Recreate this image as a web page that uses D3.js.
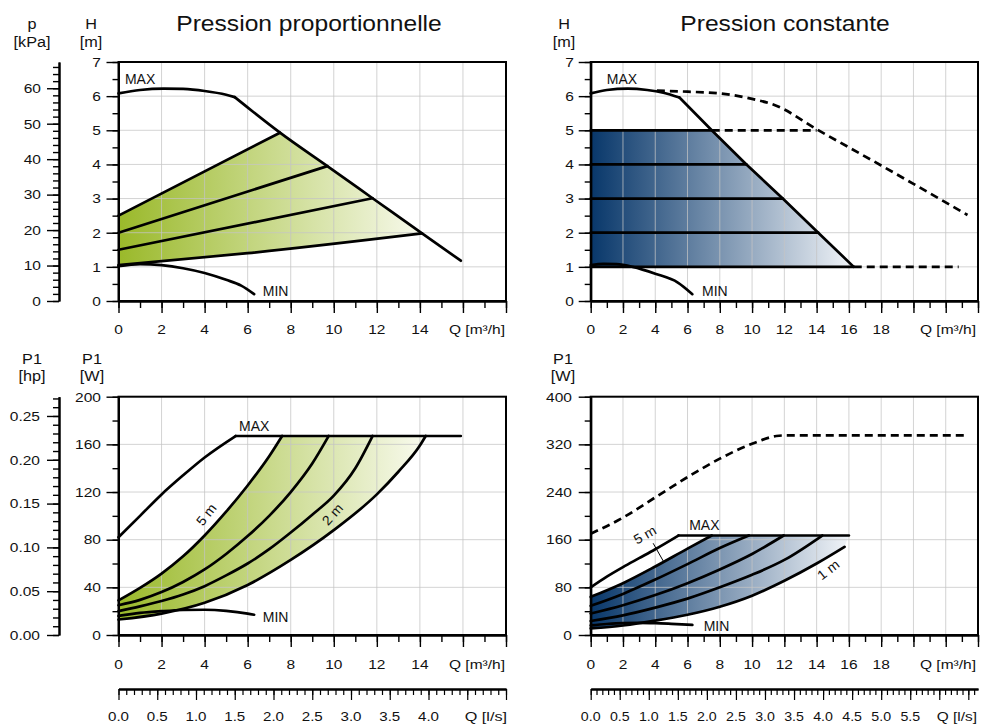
<!DOCTYPE html>
<html><head><meta charset="utf-8">
<script src="https://cdn.jsdelivr.net/npm/d3@7"></script>
<style>
body{margin:0;background:#fff;}
svg{display:block;font-family:"Liberation Sans",Arial,Helvetica,sans-serif;}
</style></head><body>
<svg id="c" width="981" height="724"></svg>
<script>
// ================= DATA =================
const titleLeft = "Pression proportionnelle";
const titleRight = "Pression constante";

// tick labels
const hLabels = [0, 1, 2, 3, 4, 5, 6, 7];
const kPaLabels = [0, 10, 20, 30, 40, 50, 60];
const qLabelsLeft = [0, 2, 4, 6, 8, 10, 12, 14];
const qLabelsRight = [0, 2, 4, 6, 8, 10, 12, 14, 16, 18];
const pLabelsLeft = [0, 40, 80, 120, 160, 200];
const pLabelsRight = [0, 80, 160, 240, 320, 400];
const hpLabels = ["0.00", "0.05", "0.10", "0.15", "0.20", "0.25"];
const lsLabelsLeft = ["0.0", "0.5", "1.0", "1.5", "2.0", "2.5", "3.0", "3.5", "4.0"];
const lsLabelsRight = ["0.0", "0.5", "1.0", "1.5", "2.0", "2.5", "3.0", "3.5", "4.0", "4.5", "5.0", "5.5"];

// --- Top-left: proportional pressure, H [m] vs Q [m3/h]
const ppMaxCurveQ = [0, 1, 2.1, 3, 4, 5, 5.4];
const ppMaxCurveH = [6.08, 6.18, 6.22, 6.21, 6.15, 6.04, 5.97];
const ppMaxLineQ = [5.4, 7.5, 9.7, 11.8, 14.1, 15.9];
const ppMaxLineH = [5.97, 4.93, 3.95, 3.01, 1.98, 1.18];
const ppMinQ = [0, 1, 2, 3, 4, 5, 5.7, 6.3];
const ppMinH = [1.02, 1.08, 1.05, 0.96, 0.82, 0.62, 0.45, 0.2];
const pp5Q = [0, 7.5];   const pp5H = [2.5, 4.93];
const pp4Q = [0, 9.7];   const pp4H = [2.0, 3.95];
const pp3Q = [0, 11.8];  const pp3H = [1.5, 3.01];
const pp2Q = [0, 6, 14.1]; const pp2H = [1.05, 1.40, 1.98];

// --- Top-right: constant pressure
const cpMaxCurveQ = [0, 1, 2.3, 3.5, 4.5, 5.5];
const cpMaxCurveH = [6.08, 6.18, 6.22, 6.18, 6.1, 5.96];
const cpMaxLineQ = [5.5, 7.5, 9.65, 11.9, 14.1, 16.3];
const cpMaxLineH = [5.96, 5.0, 4.0, 3.0, 2.0, 1.0];
const cpMaxDashQ = [4.1, 6, 8, 10, 11.5, 14, 16, 18, 20, 23.35];
const cpMaxDashH = [6.16, 6.13, 6.08, 5.92, 5.72, 5.03, 4.5, 3.97, 3.43, 2.52];
const cpLevelH = [1, 2, 3, 4, 5];
const cpLevelQEnd = [16.3, 14.1, 11.9, 9.65, 7.5];
const cpDash5Q = [7.5, 14.0];
const cpDash1Q = [16.3, 22.8];
const cpMinQ = [0, 0.8, 1.6, 2.6, 4, 5.4, 6.3];
const cpMinH = [1.05, 1.09, 1.08, 1.0, 0.8, 0.54, 0.2];

// --- Bottom-left: P1 [W], proportional pressure
const ppPMaxCurveQ = [0, 1, 2, 3, 4, 5.44];
const ppPMaxCurveP = [82, 100, 118, 134, 149, 167];
const ppPMaxLineQ = [5.44, 15.9];
const ppPMaxLineP = [167, 167];
const ppP5Q = [0, 1, 2, 3, 4, 5, 6, 7, 7.6];
const ppP5P = [29, 39.5, 51.5, 66, 83.5, 103.5, 125.5, 150, 167];
const ppP4Q = [0, 1, 2, 3, 4, 5, 6, 7, 8, 9, 9.76];
const ppP4P = [25, 29.5, 36, 44.5, 55, 68, 83, 100, 120, 144, 167];
const ppP3Q = [0, 1, 2, 3, 4, 5, 6, 7, 8, 9, 10, 11, 11.8];
const ppP3P = [20, 24, 28.5, 34, 41, 50, 60, 72, 86, 101, 117, 140, 167];
const ppP2Q = [0, 2, 4, 6, 8, 10, 12, 13, 14, 14.27];
const ppP2P = [13, 18, 27, 42, 63, 88, 118, 137, 159, 167];
const ppPMinQ = [0, 1, 2, 3, 4, 5, 6, 6.3];
const ppPMinP = [16, 18.5, 20, 21, 21.2, 20.3, 18, 17];

// --- Bottom-right: P1 [W], constant pressure
const cpPDashQ = [0, 2, 4, 6, 8, 10, 11.5, 12, 23.35];
const cpPDashP = [170, 197, 231, 265, 296, 321, 334, 335, 335];
const cpPMaxCurveQ = [0, 1, 2, 3, 4, 5.44];
const cpPMaxCurveP = [80, 98, 114, 129, 144, 167];
const cpPMaxLineQ = [5.44, 16.0];
const cpPMaxLineP = [167, 167];
const cpP5Q = [0, 2, 4, 6, 7.5];
const cpP5P = [64, 87, 115, 145, 167];
const cpP4Q = [0, 2, 4, 6, 8, 9.8];
const cpP4P = [49, 69, 93, 119, 146, 167];
const cpP3Q = [0, 2, 4, 6, 8, 10, 11.96];
const cpP3P = [36, 50, 67, 87, 110, 136, 167];
const cpP2Q = [0, 2, 4, 6, 8, 10, 12, 14.35];
const cpP2P = [23.5, 33, 46, 61, 80, 101, 126, 167];
const cpP1Q = [0, 2, 4, 6, 8, 10, 12, 14, 15.73];
const cpP1P = [11, 16, 24, 34, 47.5, 66, 91, 120, 148];
const cpPMinQ = [0, 1, 2, 3, 4, 5, 6.3];
const cpPMinP = [16, 18.5, 20, 20.3, 19.8, 18.7, 17];

// ================= LAYOUT =================
const svg = d3.select("#c");
const defs = svg.append("defs");
const GRID = "#c4c4c4";

const xL = d3.scaleLinear([0, 18], [118.5, 506]);
const xR = d3.scaleLinear([0, 24], [590.7, 978]);
const yH = d3.scaleLinear([0, 7], [301, 62]);
const yPL = d3.scaleLinear([0, 200], [635, 396.7]);
const yPR = d3.scaleLinear([0, 400], [635, 396.7]);
const yKPa = d3.scaleLinear([0, 67.4], [301, 62]);
const yHp = d3.scaleLinear([0, 0.272], [635, 396.7]);
// l/s scales: 1 l/s = 3.6 m3/h
const lsL = d3.scaleLinear([0, 18 / 3.6], xL.range());
const lsR = d3.scaleLinear([0, 24 / 3.6], xR.range());

const zip = (a, b) => a.map((v, i) => [v, b[i]]);
const mono = d3.line().curve(d3.curveMonotoneX);
const lin = d3.line();
const px = (x, y, pts) => pts.map(p => [x(p[0]), y(p[1])]);

function sample(d, n = 80) {
  const p = defs.append("path").attr("d", d).node();
  const L = p.getTotalLength(), out = [];
  for (let i = 0; i <= n; i++) { const q = p.getPointAtLength(L * i / n); out.push([q.x, q.y]); }
  p.remove();
  return out;
}

function T(g, x, y, s, o = {}) {
  const size = o.size || 13.5, sx = o.sx || 1.15, rot = o.rot || 0;
  return g.append("text")
    .attr("transform", `translate(${x},${y}) rotate(${rot}) scale(${sx},1)`)
    .attr("text-anchor", o.anchor || "middle")
    .attr("font-size", size)
    .attr("fill", "#111")
    .text(s);
}

function gradient(id, c0, c1, xa, xb) {
  const g = defs.append("linearGradient").attr("id", id)
    .attr("gradientUnits", "userSpaceOnUse")
    .attr("x1", xa).attr("x2", xb).attr("y1", 0).attr("y2", 0);
  g.append("stop").attr("offset", 0).attr("stop-color", c0);
  g.append("stop").attr("offset", 1).attr("stop-color", c1);
}

const layerFill = svg.append("g");
const layerGrid = svg.append("g");
const layerAxes = svg.append("g");
const layerCurves = svg.append("g");
const layerText = svg.append("g");

function styleAxis(g, w) {
  g.select(".domain").attr("stroke-width", 2);
  g.selectAll(".tick line").attr("stroke-width", w);
}

function panel(x, y, xMajor, xMinor, yMajor, yMinor, yGrid) {
  const [x0, x1] = x.range(), [y0, y1] = y.range();
  layerGrid.append("g").selectAll("line")
    .data(xMajor.filter(v => v > x.domain()[0] && v < x.domain()[1])).join("line")
    .attr("x1", d => x(d)).attr("x2", d => x(d)).attr("y1", y0).attr("y2", y1)
    .attr("stroke", GRID).attr("stroke-opacity", 0.75).attr("stroke-width", 1);
  layerGrid.append("g").selectAll("line")
    .data(yGrid.filter(v => v > y.domain()[0] && v < y.domain()[1])).join("line")
    .attr("y1", d => y(d)).attr("y2", d => y(d)).attr("x1", x0).attr("x2", x1)
    .attr("stroke", GRID).attr("stroke-opacity", 0.75).attr("stroke-width", 1);
  layerAxes.append("rect").attr("x", x0).attr("y", y1).attr("width", x1 - x0).attr("height", y0 - y1)
    .attr("fill", "none").attr("stroke", "#000").attr("stroke-width", 2);
  const ax = (gen, tx, ty) => styleAxis(layerAxes.append("g").attr("transform", `translate(${tx},${ty})`).call(gen), 1.4);
  ax(d3.axisBottom(x).tickValues(xMinor).tickSize(7).tickSizeOuter(0).tickFormat(""), 0, y0);
  ax(d3.axisBottom(x).tickValues(xMajor).tickSize(12).tickSizeOuter(0).tickFormat(""), 0, y0);
  ax(d3.axisLeft(y).tickValues(yMinor).tickSize(6).tickSizeOuter(0).tickFormat(""), x0, 0);
  ax(d3.axisLeft(y).tickValues(yMajor).tickSize(12).tickSizeOuter(0).tickFormat(""), x0, 0);
}

function sideAxis(y, major, minor, xPos) {
  const ax = gen => styleAxis(layerAxes.append("g").attr("transform", `translate(${xPos},0)`).call(gen), 1.4);
  ax(d3.axisLeft(y).tickValues(minor).tickSize(6).tickSizeOuter(0).tickFormat(""));
  ax(d3.axisLeft(y).tickValues(major).tickSize(12).tickSizeOuter(0).tickFormat(""));
}

function lsAxis(s, major, minor, yPos) {
  const ax = gen => styleAxis(layerAxes.append("g").attr("transform", `translate(0,${yPos})`).call(gen), 1.2);
  ax(d3.axisBottom(s).tickValues(minor).tickSize(6).tickSizeOuter(0).tickFormat(""));
  ax(d3.axisBottom(s).tickValues(major).tickSize(11).tickSizeOuter(0).tickFormat(""));
}

const rng = (a, b, s) => d3.range(a, b + s / 2, s);
panel(xL, yH, rng(0, 18, 2), rng(0, 18, 1), rng(0, 7, 1), rng(0, 7, 0.5), rng(0, 7, 1));
panel(xR, yH, rng(0, 24, 2), rng(0, 24, 1), rng(0, 7, 1), rng(0, 7, 0.5), rng(0, 7, 1));
panel(xL, yPL, rng(0, 18, 2), rng(0, 18, 1), rng(0, 200, 40), rng(0, 200, 20), rng(0, 200, 40));
panel(xR, yPR, rng(0, 24, 2), rng(0, 24, 1), rng(0, 400, 80), rng(0, 400, 40), rng(0, 400, 80));
sideAxis(yKPa, rng(0, 60, 10), rng(0, 66, 2), 59);
sideAxis(yHp, rng(0, 0.25, 0.05), rng(0, 0.27, 0.01), 59);
lsAxis(lsL, rng(0, 5, 0.5), rng(0, 5, 0.1), 689);
lsAxis(lsR, rng(0, 6.5, 0.5), rng(0, 6.6, 0.1), 689);

gradient("gGreen", "#9ab92a", "#fbfcf3", xL(0), xL(14.6));
gradient("gBlueT", "#08376a", "#f1f4f8", xR(0), xR(16.3));
gradient("gBlueB", "#08376a", "#f1f4f8", xR(0), xR(16.0));

// ----- fills -----
{
  const top = zip(pp5Q, pp5H);
  const maxSeg = zip(ppMaxLineQ, ppMaxLineH).filter(p => p[0] > 7.5 && p[0] < 14.1);
  const bot = sample(mono(px(xL, yH, zip(pp2Q, pp2H)))).reverse();
  const pts = [...px(xL, yH, [...top, ...maxSeg]), ...bot];
  layerFill.append("path").attr("d", lin(pts) + "Z").attr("fill", "url(#gGreen)");
}
{
  const pts = [[0, 5], ...zip(cpMaxLineQ, cpMaxLineH).filter(p => p[1] <= 5), [0, 1]];
  layerFill.append("path").attr("d", lin(px(xR, yH, pts)) + "Z").attr("fill", "url(#gBlueT)");
}
{
  const top = sample(mono(px(xL, yPL, zip(ppP5Q, ppP5P))));
  const bot = sample(mono(px(xL, yPL, zip(ppP2Q, ppP2P)))).reverse();
  layerFill.append("path").attr("d", lin([...top, ...bot]) + "Z").attr("fill", "url(#gGreen)");
}
{
  const top = sample(mono(px(xR, yPR, zip(cpP5Q, cpP5P))));
  const corner = [xR(cpPMaxLineQ[1]), yPR(cpPMaxLineP[1])];
  const bot = sample(mono(px(xR, yPR, zip(cpP1Q, cpP1P)))).reverse();
  layerFill.append("path").attr("d", lin([...top, corner, ...bot]) + "Z").attr("fill", "url(#gBlueB)");
}

// ----- curves -----
function curve(x, y, Q, V, opt = {}) {
  const gen = opt.linear ? lin : mono;
  layerCurves.append("path").attr("d", gen(px(x, y, zip(Q, V))))
    .attr("fill", "none").attr("stroke", "#000")
    .attr("stroke-width", opt.w || 2.7)
    .attr("stroke-linejoin", "round").attr("stroke-linecap", opt.dash ? "butt" : "round")
    .attr("stroke-dasharray", opt.dash ? "8,5" : null);
}
curve(xL, yH, ppMaxCurveQ, ppMaxCurveH);
curve(xL, yH, ppMaxLineQ, ppMaxLineH);
curve(xL, yH, ppMinQ, ppMinH);
curve(xL, yH, pp5Q, pp5H, { linear: true });
curve(xL, yH, pp4Q, pp4H, { linear: true });
curve(xL, yH, pp3Q, pp3H, { linear: true });
curve(xL, yH, pp2Q, pp2H);

curve(xR, yH, cpMaxDashQ, cpMaxDashH, { dash: true });
curve(xR, yH, cpDash5Q, [5, 5], { dash: true, linear: true });
curve(xR, yH, cpDash1Q, [1, 1], { dash: true, linear: true });
curve(xR, yH, cpMaxCurveQ, cpMaxCurveH);
curve(xR, yH, cpMaxLineQ, cpMaxLineH, { linear: true });
cpLevelH.forEach((h, i) => curve(xR, yH, [0, cpLevelQEnd[i]], [h, h], { linear: true }));
curve(xR, yH, cpMinQ, cpMinH);

curve(xL, yPL, ppPMaxCurveQ, ppPMaxCurveP);
curve(xL, yPL, ppPMaxLineQ, ppPMaxLineP, { linear: true });
curve(xL, yPL, ppP5Q, ppP5P);
curve(xL, yPL, ppP4Q, ppP4P);
curve(xL, yPL, ppP3Q, ppP3P);
curve(xL, yPL, ppP2Q, ppP2P);
curve(xL, yPL, ppPMinQ, ppPMinP);

curve(xR, yPR, cpPDashQ, cpPDashP, { dash: true });
curve(xR, yPR, cpPMaxCurveQ, cpPMaxCurveP);
curve(xR, yPR, cpPMaxLineQ, cpPMaxLineP, { linear: true });
curve(xR, yPR, cpP5Q, cpP5P);
curve(xR, yPR, cpP4Q, cpP4P);
curve(xR, yPR, cpP3Q, cpP3P);
curve(xR, yPR, cpP2Q, cpP2P);
curve(xR, yPR, cpP1Q, cpP1P);
curve(xR, yPR, cpPMinQ, cpPMinP);
layerCurves.append("line")
  .attr("x1", xR(3.87)).attr("y1", yPR(154)).attr("x2", xR(4.5)).attr("y2", yPR(124))
  .attr("stroke", "#000").attr("stroke-width", 1);

// ================= TEXT =================
const tg = layerText;
T(tg, 309, 31, titleLeft, { size: 22, sx: 1.12 });
T(tg, 785, 31, titleRight, { size: 22, sx: 1.12 });

const AT = { size: 14.5, sx: 1.12 };
T(tg, 32, 29, "p", AT); T(tg, 32, 47, "[kPa]", AT);
T(tg, 91, 29, "H", AT); T(tg, 91, 47, "[m]", AT);
T(tg, 564, 29, "H", AT); T(tg, 564, 47, "[m]", AT);
T(tg, 32, 364, "P1", AT); T(tg, 32, 381, "[hp]", AT);
T(tg, 92, 364, "P1", AT); T(tg, 92, 381, "[W]", AT);
T(tg, 563, 364, "P1", AT); T(tg, 563, 381, "[W]", AT);

hLabels.forEach(v => { T(tg, 101, yH(v) + 4.8, v, { anchor: "end" }); T(tg, 574, yH(v) + 4.8, v, { anchor: "end" }); });
kPaLabels.forEach(v => T(tg, 41, yKPa(v) + 4.8, v, { anchor: "end" }));
pLabelsLeft.forEach(v => T(tg, 101, yPL(v) + 4.8, v, { anchor: "end" }));
pLabelsRight.forEach(v => T(tg, 572, yPR(v) + 4.8, v, { anchor: "end" }));
hpLabels.forEach(v => T(tg, 40, yHp(+v) + 4.8, v, { anchor: "end" }));

qLabelsLeft.forEach(v => { T(tg, xL(v), 333.5, v); T(tg, xL(v), 668.5, v); });
qLabelsRight.forEach(v => { T(tg, xR(v), 333.5, v); T(tg, xR(v), 668.5, v); });
[333.5, 668.5].forEach(b => { T(tg, 505, b, "Q [m³/h]", { anchor: "end" }); T(tg, 976, b, "Q [m³/h]", { anchor: "end" }); });
const LSB = 720.5;
lsLabelsLeft.forEach(v => T(tg, lsL(+v), LSB, v, { size: 13.5, sx: 1.12 }));
lsLabelsRight.forEach(v => T(tg, lsR(+v), LSB, v, { size: 13.5, sx: 1.05 }));
T(tg, 507, LSB, "Q [l/s]", { anchor: "end", size: 13.5, sx: 1.2 });
T(tg, 977, LSB, "Q [l/s]", { anchor: "end", size: 13.5, sx: 1.14 });

const LT = { anchor: "start", size: 14, sx: 1.0 };
T(tg, xL(0.3), yH(6.5) + 4.5, "MAX", LT);
T(tg, xL(6.7), yH(0.28) + 4.5, "MIN", LT);
T(tg, xR(1.0), yH(6.5) + 4.5, "MAX", LT);
T(tg, xR(6.9), yH(0.28) + 4.5, "MIN", LT);
T(tg, xL(5.6), yPL(175) + 4.5, "MAX", LT);
T(tg, xL(6.7), yPL(15) + 4.5, "MIN", LT);
T(tg, xR(6.1), yPR(183) + 4.5, "MAX", LT);
T(tg, xR(7.0), yPR(15) + 4.5, "MIN", LT);
T(tg, xL(4.25), yPL(102) + 4, "5 m", { rot: -52, size: 13.5, sx: 1.05 });
T(tg, xL(10.1), yPL(102) + 4, "2 m", { rot: -48, size: 13.5, sx: 1.05 });
T(tg, xR(3.5), yPR(168) + 4, "5 m", { rot: -30, size: 13.5, sx: 1.05 });
T(tg, xR(14.9), yPR(110) + 4, "1 m", { rot: -38, size: 13.5, sx: 1.05 });
</script>
</body></html>
